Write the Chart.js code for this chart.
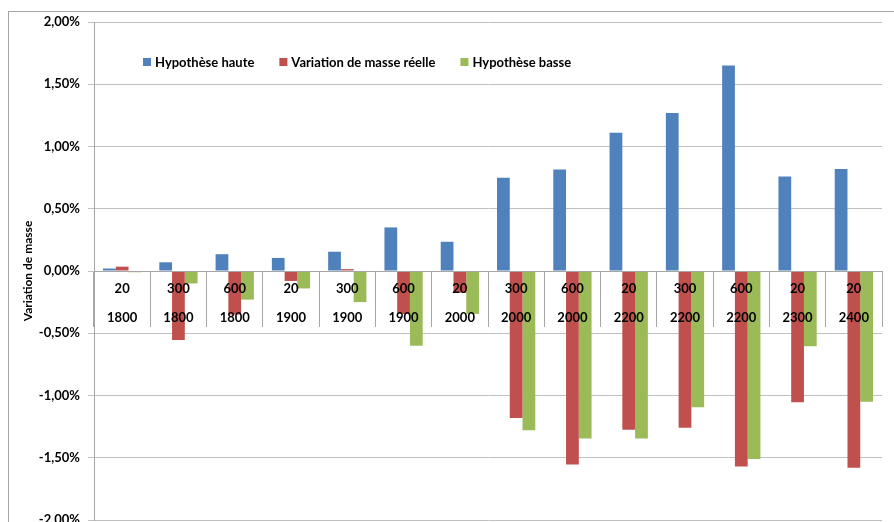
<!DOCTYPE html>
<html>
<head>
<meta charset="utf-8">
<script src="https://cdn.jsdelivr.net/npm/chart.js@4"></script>
<style>
  html, body { margin: 0; padding: 0; background: #fff; overflow: hidden; }
  #wrap { position: relative; width: 894px; height: 540px; }
  #frame { position: absolute; left: 8px; top: 11px; right: -2px; bottom: -2px;
           border-left: 1px solid #a6a6a6; border-top: 1px solid #a6a6a6; }
</style>
</head>
<body>
<div id="wrap">
  <div id="frame"></div>
  <canvas id="chart" width="894" height="540"></canvas>
</div>
<script>
// Categories: two-level labels (top row / bottom row)
const topLabels = ['20', '300', '600', '20', '300', '600', '20', '300', '600', '20', '300', '600', '20', '20'];
const bottomLabels = ['1800', '1800', '1800', '1900', '1900', '1900', '2000', '2000', '2000', '2200', '2200', '2200', '2300', '2400'];

// Values in %
const hypHaute = [0.02, 0.07, 0.135, 0.105, 0.155, 0.35, 0.235, 0.75, 0.815, 1.11, 1.27, 1.65, 0.76, 0.82];
const variationReelle = [0.035, -0.555, -0.35, -0.08, 0.015, -0.345, -0.175, -1.18, -1.555, -1.275, -1.26, -1.57, -1.055, -1.58];
const hypBasse = [-0.01, -0.10, -0.23, -0.14, -0.25, -0.60, -0.345, -1.28, -1.345, -1.345, -1.095, -1.51, -0.605, -1.05];

const yTicks = [-2, -1.5, -1, -0.5, 0, 0.5, 1, 1.5, 2];

const FONT = 'Lato, "Liberation Sans", sans-serif';

// Legend drawn inside the plot area, like the original
const insideLegend = {
    id: 'insideLegend',
    afterDraw(chart) {
        const ctx = chart.ctx;
        const area = chart.chartArea;
        ctx.save();
        ctx.font = 'bold 13px ' + FONT;
        ctx.textBaseline = 'middle';
        let x = area.left + 49;
        const y = 62;
        chart.data.datasets.forEach(ds => {
            ctx.fillStyle = ds.backgroundColor;
            ctx.fillRect(x, y - 4, 8, 8);
            x += 12;
            ctx.fillStyle = '#000';
            ctx.fillText(ds.label, x, y + 1);
            x += ctx.measureText(ds.label).width + 25;
        });
        ctx.restore();
    }
};

new Chart(document.getElementById('chart'), {
    type: 'bar',
    data: {
        labels: topLabels.map((t, i) => [t, bottomLabels[i]]),
        datasets: [
            { label: 'Hypothèse haute', data: hypHaute, backgroundColor: '#4F81BD' },
            { label: 'Variation de masse réelle', data: variationReelle, backgroundColor: '#C0504D' },
            { label: 'Hypothèse basse', data: hypBasse, backgroundColor: '#9BBB59' }
        ]
    },
    options: {
        responsive: false,
        animation: false,
        layout: { padding: { top: 22, right: 12, bottom: 20, left: 0 } },
        datasets: {
            bar: { categoryPercentage: 0.68, barPercentage: 1.0 }
        },
        plugins: {
            legend: { display: false },
            tooltip: { enabled: false }
        },
        scales: {
            x: {
                position: { y: 0 },
                grid: {
                    offset: true,
                    drawOnChartArea: false,
                    tickLength: 55,
                    color: '#a6a6a6',
                    z: 1
                },
                border: { color: '#a6a6a6', z: 1 },
                ticks: {
                    z: 2,
                    padding: -52,
                    maxRotation: 0,
                    autoSkip: false,
                    color: '#000',
                    font: { family: FONT, size: 13, weight: 'bold', lineHeight: 29 / 13 }
                }
            },
            y: {
                min: -2,
                max: 2,
                afterFit(scale) { scale.width = 94; },
                afterBuildTicks(scale) { scale.ticks = yTicks.map(v => ({ value: v })); },
                grid: { color: '#c0c0c0', tickLength: 6 },
                border: { color: '#a6a6a6' },
                ticks: {
                    padding: 8,
                    color: '#000',
                    font: { family: FONT, size: 13, weight: 'bold' },
                    callback: v => v.toFixed(2).replace('.', ',') + '%'
                },
                title: {
                    display: true,
                    text: 'Variation de masse',
                    color: '#000',
                    padding: { top: 21, bottom: 0 },
                    font: { family: FONT, size: 12, weight: 'bold' }
                }
            }
        }
    },
    plugins: [insideLegend]
});
</script>
</body>
</html>
